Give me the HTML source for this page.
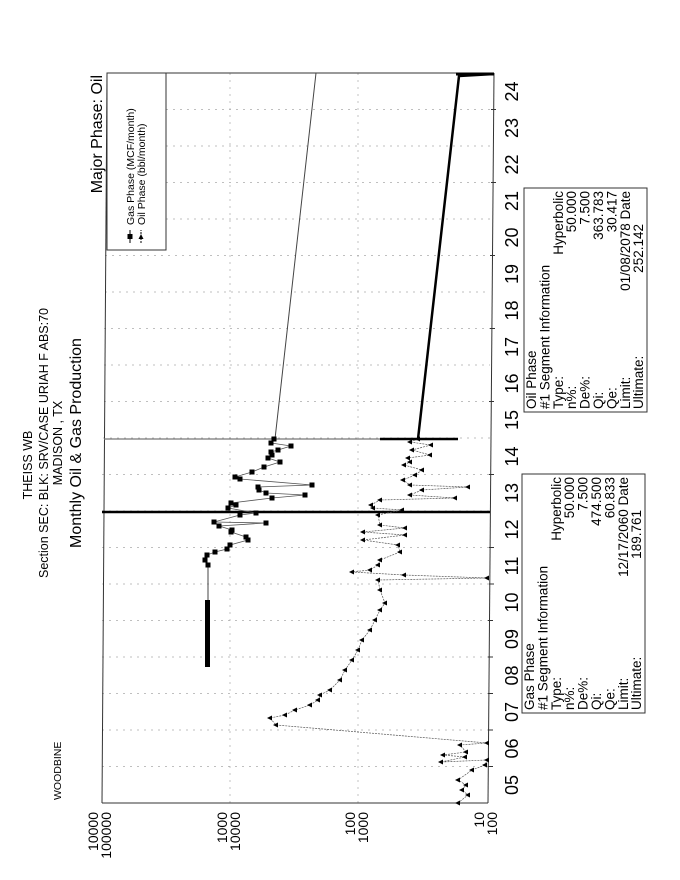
<!DOCTYPE html>
<html><head><meta charset="utf-8"><style>
html,body{margin:0;padding:0;background:#fff;}
svg{display:block;font-family:"Liberation Sans",Arial,sans-serif;}
</style></head><body>
<svg width="680" height="880" viewBox="0 0 680 880" xmlns="http://www.w3.org/2000/svg">
<defs>
<marker id="sq" markerWidth="6" markerHeight="6" refX="3" refY="3" markerUnits="userSpaceOnUse"><rect x="0.5" y="0.5" width="5" height="5" fill="#000"/></marker>
<marker id="tri" markerWidth="6" markerHeight="6" refX="3" refY="3" markerUnits="userSpaceOnUse"><path d="M0,3 L5,0.5 L5,5.5 Z" fill="#000"/></marker>
</defs>
<rect width="680" height="880" fill="#fff"/>

<g stroke="#aaa" stroke-width="0.7" stroke-dasharray="2,5">
<line x1="230" y1="73" x2="230" y2="803"/>
<line x1="358" y1="73" x2="358" y2="803"/>
<line x1="102" y1="766.5" x2="490" y2="766.5"/>
<line x1="102" y1="730" x2="490" y2="730"/>
<line x1="102" y1="693.5" x2="490" y2="693.5"/>
<line x1="102" y1="657" x2="490" y2="657"/>
<line x1="102" y1="620.5" x2="490" y2="620.5"/>
<line x1="102" y1="584" x2="490" y2="584"/>
<line x1="102" y1="547.5" x2="490" y2="547.5"/>
<line x1="102" y1="511" x2="490" y2="511"/>
<line x1="102" y1="474.5" x2="490" y2="474.5"/>
<line x1="103" y1="438" x2="490" y2="438"/>
<line x1="104" y1="401.5" x2="490" y2="401.5"/>
<line x1="104" y1="365" x2="490" y2="365"/>
<line x1="104" y1="328.5" x2="490" y2="328.5"/>
<line x1="105" y1="292" x2="490" y2="292"/>
<line x1="105" y1="255.5" x2="490" y2="255.5"/>
<line x1="166" y1="219" x2="490" y2="219"/>
<line x1="166" y1="182.5" x2="490" y2="182.5"/>
<line x1="166" y1="146" x2="490" y2="146"/>
<line x1="166" y1="109.5" x2="490" y2="109.5"/>
</g>

<g stroke="#333" stroke-width="1" fill="none">
<line x1="107" y1="73" x2="102" y2="803"/>
<line x1="102" y1="803" x2="488" y2="803"/>
<line x1="107" y1="73" x2="494" y2="73"/>
<line x1="494" y1="73" x2="488" y2="803"/>
</g>
<g stroke="#333" stroke-width="1">
<line x1="488" y1="766.5" x2="493" y2="766.5"/><line x1="488" y1="730" x2="493" y2="730"/><line x1="488" y1="693.5" x2="493" y2="693.5"/><line x1="488" y1="657" x2="493" y2="657"/><line x1="488" y1="620.5" x2="493" y2="620.5"/><line x1="489" y1="584" x2="494" y2="584"/><line x1="489" y1="547.5" x2="494" y2="547.5"/><line x1="489" y1="474.5" x2="494" y2="474.5"/><line x1="489" y1="401.5" x2="494" y2="401.5"/><line x1="490" y1="328.5" x2="495" y2="328.5"/><line x1="490" y1="255.5" x2="495" y2="255.5"/><line x1="491" y1="182.5" x2="496" y2="182.5"/><line x1="491" y1="109.5" x2="496" y2="109.5"/>
</g>

<line x1="104" y1="439" x2="456" y2="439" stroke="#777" stroke-width="1.2"/>
<line x1="380" y1="439" x2="458" y2="439" stroke="#000" stroke-width="2.5"/>
<line x1="102" y1="512" x2="490" y2="512" stroke="#000" stroke-width="2.5"/>

<line x1="275" y1="439" x2="316" y2="73" stroke="#444" stroke-width="1"/>
<polyline points="418,439 459,76 494,74" fill="none" stroke="#000" stroke-width="2.5"/>
<line x1="456" y1="74" x2="494" y2="74" stroke="#000" stroke-width="3"/>

<rect x="205" y="600" width="5" height="67" fill="#000"/>
<line x1="208" y1="565" x2="208" y2="600" stroke="#444" stroke-width="1"/>
<polyline fill="none" stroke="#555" stroke-width="0.8" marker-mid="url(#sq)" marker-start="url(#sq)" marker-end="url(#sq)"
points="274,439 271,443 291,446 278,450 271,452 272,455 268,458 280,462 264,467 252,472 235,477 240,479 312,485 258,487 259,490 266,493 305,495 272,498 231,503 236,505 228,508 256,513 240,515 214,522 266,523 219,526 232,530 231,532 246,537 248,540 230,545 227,549 215,552 207,555 205,560 208,565"/>

<polyline fill="none" stroke="#555" stroke-width="0.7" stroke-dasharray="2,1" marker-mid="url(#tri)" marker-start="url(#tri)" marker-end="url(#tri)"
points="418,439 410,442 431,445 412,450 430,455 408,458 410,462 404,465 422,470 415,475 403,480 410,485 468,487 422,490 410,495 455,498 380,500 371,505 373,508 402,510 378,515 380,525 405,528 363,532 405,535 363,540 398,545 400,552 380,560 378,565 370,570 352,572 404,575 487,578 378,580 380,590 385,603 380,610 375,620 370,630 362,640 358,650 352,660 345,670 340,680 330,690 320,695 318,700 310,705 295,710 285,715 270,718 276,725 487,743 460,745 466,752 443,755 465,757 441,762 487,760 485,765 472,770 458,780 466,785 462,790 468,795 458,803"/>

<rect x="107" y="73" width="59" height="177" fill="#fff" stroke="#333" stroke-width="1"/>
<line x1="130" y1="243" x2="130" y2="230" stroke="#000"/><rect x="127.5" y="234" width="5" height="5" fill="#000"/>
<line x1="141" y1="243" x2="141" y2="230" stroke="#000" stroke-dasharray="2,1"/><path d="M141,234 L138.5,239 L143.5,239 Z" fill="#000"/>
<text transform="translate(134,225) rotate(-90)" font-size="10.5">Gas Phase (MCF/month)</text>
<text transform="translate(145,225) rotate(-90)" font-size="10.5">Oil Phase (bbl/month)</text>

<text transform="translate(102,75) rotate(-90)" font-size="16" text-anchor="end">Major Phase: Oil</text>

<g text-anchor="middle">
<text transform="translate(32,465) rotate(-90)" font-size="12.5">THEISS WB</text>
<text transform="translate(48,443) rotate(-90)" font-size="12.5">Section SEC: BLK: SRV/CASE URIAH F ABS:70</text>
<text transform="translate(62,443) rotate(-90)" font-size="12.5">MADISON , TX</text>
<text transform="translate(81,443) rotate(-90)" font-size="16">Monthly Oil &amp; Gas Production</text>
</g>
<text transform="translate(61,800) rotate(-90)" font-size="10.5">WOODBINE</text>

<g font-size="14" text-anchor="end">
<text transform="translate(98,812) rotate(-90)">10000</text><text transform="translate(111,812) rotate(-90)">100000</text>
<text transform="translate(227,812) rotate(-90)">1000</text><text transform="translate(240,812) rotate(-90)">10000</text>
<text transform="translate(355,812) rotate(-90)">100</text><text transform="translate(368,812) rotate(-90)">1000</text>
<text transform="translate(484,812) rotate(-90)">10</text><text transform="translate(497,812) rotate(-90)">100</text>
</g>

<g font-size="18" text-anchor="middle">
<text transform="translate(518,785) rotate(-90)">05</text>
<text transform="translate(518,748.5) rotate(-90)">06</text>
<text transform="translate(518,712) rotate(-90)">07</text>
<text transform="translate(518,675.5) rotate(-90)">08</text>
<text transform="translate(518,639) rotate(-90)">09</text>
<text transform="translate(518,602.5) rotate(-90)">10</text>
<text transform="translate(518,566) rotate(-90)">11</text>
<text transform="translate(518,529.5) rotate(-90)">12</text>
<text transform="translate(518,493) rotate(-90)">13</text>
<text transform="translate(518,456.5) rotate(-90)">14</text>
<text transform="translate(518,420) rotate(-90)">15</text>
<text transform="translate(518,383.5) rotate(-90)">16</text>
<text transform="translate(518,347) rotate(-90)">17</text>
<text transform="translate(518,310.5) rotate(-90)">18</text>
<text transform="translate(518,274) rotate(-90)">19</text>
<text transform="translate(518,237.5) rotate(-90)">20</text>
<text transform="translate(518,201) rotate(-90)">21</text>
<text transform="translate(518,164.5) rotate(-90)">22</text>
<text transform="translate(518,128) rotate(-90)">23</text>
<text transform="translate(518,91.5) rotate(-90)">24</text>
</g>

<g transform="translate(522,713) rotate(-90)" font-size="13.5">
<rect x="0" y="0" width="239" height="123" fill="#fff" stroke="#333"/>
<text x="3" y="12">Gas Phase</text>
<text x="3" y="25.4">#1  Segment Information</text>
<text x="3" y="38.8">Type:</text><text x="236" y="38.8" text-anchor="end">Hyperbolic</text>
<text x="3" y="52.2">n%:</text><text x="236" y="52.2" text-anchor="end">50.000</text>
<text x="3" y="65.6">De%:</text><text x="236" y="65.6" text-anchor="end">7.500</text>
<text x="3" y="79">Qi:</text><text x="236" y="79" text-anchor="end">474.500</text>
<text x="3" y="92.4">Qe:</text><text x="236" y="92.4" text-anchor="end">60.833</text>
<text x="3" y="105.8">Limit:</text><text x="236" y="105.8" text-anchor="end">12/17/2060 Date</text>
<text x="3" y="119.2">Ultimate:</text><text x="203" y="119.2" text-anchor="end">189.761</text>
</g>

<g transform="translate(524,412) rotate(-90)" font-size="13.5">
<rect x="0" y="0" width="224" height="123" fill="#fff" stroke="#333"/>
<text x="3" y="12">Oil Phase</text>
<text x="3" y="25.4">#1  Segment Information</text>
<text x="3" y="38.8">Type:</text><text x="221" y="38.8" text-anchor="end">Hyperbolic</text>
<text x="3" y="52.2">n%:</text><text x="221" y="52.2" text-anchor="end">50.000</text>
<text x="3" y="65.6">De%:</text><text x="221" y="65.6" text-anchor="end">7.500</text>
<text x="3" y="79">Qi:</text><text x="221" y="79" text-anchor="end">363.783</text>
<text x="3" y="92.4">Qe:</text><text x="221" y="92.4" text-anchor="end">30.417</text>
<text x="3" y="105.8">Limit:</text><text x="221" y="105.8" text-anchor="end">01/08/2078 Date</text>
<text x="3" y="119.2">Ultimate:</text><text x="188" y="119.2" text-anchor="end">252.142</text>
</g>
</svg>
</body></html>
